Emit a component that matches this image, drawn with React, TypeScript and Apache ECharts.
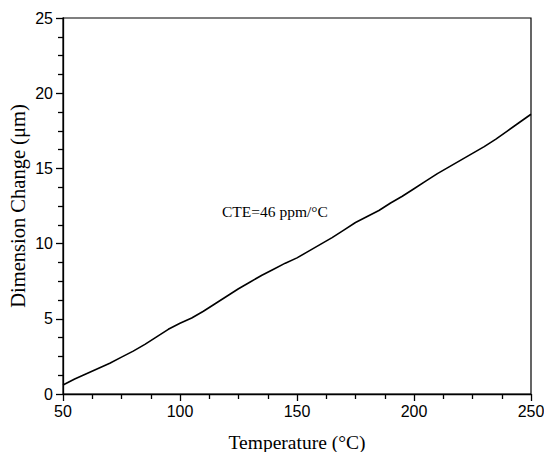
import React, { useEffect, useRef } from "react";
import * as echarts from "echarts";

const temperatures = [50, 55, 60, 65, 70, 75, 80, 85, 90, 95, 100, 105, 110, 115, 120, 125, 130, 135, 140, 145, 150, 155, 160, 165, 170, 175, 180, 185, 190, 195, 200, 205, 210, 215, 220, 225, 230, 235, 240, 245, 250];
const dimensionChange = [0.6, 1.0, 1.35, 1.7, 2.05, 2.45, 2.85, 3.3, 3.8, 4.3, 4.7, 5.05, 5.5, 6.0, 6.5, 7.0, 7.45, 7.9, 8.3, 8.7, 9.05, 9.5, 9.95, 10.4, 10.9, 11.4, 11.8, 12.2, 12.7, 13.15, 13.65, 14.15, 14.65, 15.1, 15.55, 16.0, 16.45, 16.95, 17.5, 18.05, 18.6];
const annotation = "CTE=46 ppm/°C";

export default function App() {
  const ref = useRef<HTMLDivElement>(null);
  useEffect(() => {
    document.body.style.margin = "0";
    const chart = echarts.init(ref.current!, null, { renderer: "svg" });
    const data = temperatures.map((t, i) => [t, dimensionChange[i]]);
    chart.setOption({
      animation: false,
      backgroundColor: "#fff",
      grid: {
        left: 63, right: 13, top: 18, bottom: 58,
        outerBoundsMode: "none",
        containLabel: false,
        show: true, borderColor: "#000", borderWidth: 1.2,
      },
      xAxis: {
        type: "value",
        min: 50,
        max: 250,
        interval: 50,
        name: "Temperature (°C)",
        nameLocation: "middle",
        nameGap: 38,
        nameMoveOverlap: false,
        nameTextStyle: { fontFamily: "Liberation Serif", fontSize: 19.5, color: "#000" },
        axisLine: { lineStyle: { color: "#000", width: 1.3 } },
        axisTick: { show: true, inside: false, length: 7, lineStyle: { color: "#000", width: 1.3 } },
        minorTick: { show: true, splitNumber: 4, length: 5, lineStyle: { color: "#000", width: 1.3 } },
        axisLabel: { fontFamily: "Liberation Sans", fontSize: 16, color: "#000", margin: 9 },
        splitLine: { show: false },
      },
      yAxis: {
        type: "value",
        min: 0,
        max: 25,
        interval: 5,
        name: "Dimension Change (μm)",
        nameLocation: "middle",
        nameGap: 35,
        nameMoveOverlap: false,
        nameTextStyle: { fontFamily: "Liberation Serif", fontSize: 20.5, color: "#000" },
        axisLine: { show: true, lineStyle: { color: "#000", width: 1.3 } },
        axisTick: { show: true, inside: false, length: 7, lineStyle: { color: "#000", width: 1.3 } },
        minorTick: { show: true, splitNumber: 4, length: 5, lineStyle: { color: "#000", width: 1.3 } },
        axisLabel: { fontFamily: "Liberation Sans", fontSize: 16, color: "#000", margin: 10 },
        splitLine: { show: false },
      },
      graphic: [
        {
          type: "text",
          left: 222,
          top: 203,
          style: { text: annotation, fontFamily: "Liberation Serif", fontSize: 15.5, fill: "#000" },
        },
      ],
      series: [
        {
          type: "line",
          data,
          showSymbol: false,
          smooth: false,
          lineStyle: { color: "#000", width: 1.6 },
        },
      ],
    });
    return () => chart.dispose();
  }, []);
  return <div ref={ref} style={{ width: 544, height: 452 }} />;
}
